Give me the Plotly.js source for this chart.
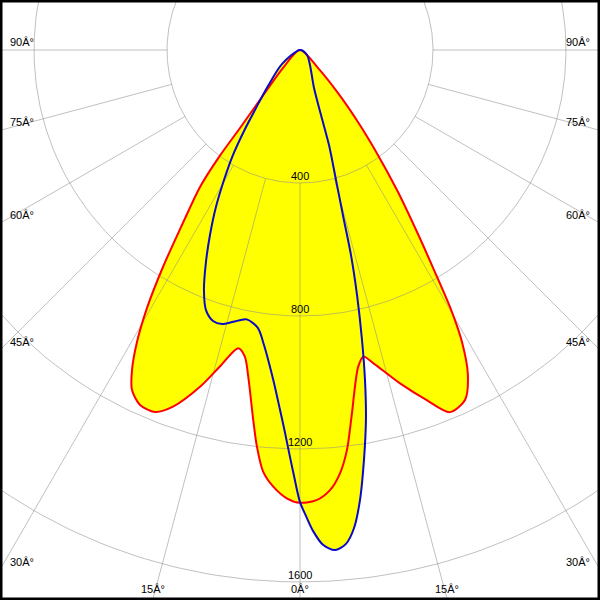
<!DOCTYPE html>
<html>
<head>
<meta charset="utf-8">
<script src="https://cdn.plot.ly/plotly-3.0.1.min.js"></script>
<style>html,body{margin:0;padding:0;background:#fff;}#chart{width:600px;height:600px;}</style>
</head>
<body>
<div id="chart"></div>
<script>
// Polar intensity data (gamma angle in degrees, negative = left half-plane; intensity in cd)
const redAngles = [-90, -43.4, -38.96, -37.57, -37.13, -36.13, -33.99, -32.27, -30.67, -29.17, -27.70, -26.29, -24.26, -21.83, -19.6, -16.5, -14.2, -11.7, -10.2, -9.0, -7.2, -6.2, -5.0, -3.5, -1.7, 0, 2.1, 3.9, 5.4, 6.7, 8.0, 10.4, 11.7, 13.2, 16.7, 19.9, 22.5, 25.24, 27.33, 29.02, 30.27, 31.35, 32.74, 34.61, 36.6, 38.85, 41.47, 45, 90];
const redValues = [0, 74, 182, 296, 404, 510, 635, 772, 902, 1006, 1087, 1141, 1171, 1173, 1139, 1056, 982, 916, 937, 995, 1122, 1200, 1273, 1316, 1349, 1362, 1355, 1327, 1279, 1211, 1114, 969, 942, 968, 1047, 1120, 1179, 1164, 1100, 1004, 895, 775, 651, 519, 393, 278, 173, 77, 0];

const blueAngles = [-90, -52.1, -41.63, -37.18, -34.66, -32.54, -30.31, -28.15, -25.94, -23.91, -21.80, -19.87, -17.80, -15.89, -13.8, -11.2, -8.59, -6.96, -5.66, -4.46, -3.39, -2.42, -1.57, -0.81, 0, 0.74, 1.55, 2.66, 4.0, 5.32, 6.45, 7.59, 8.87, 10.11, 11.14, 12.07, 13.10, 13.97, 14.52, 15.48, 16.97, 17.9, 20.22, 33.7, 54.5, 90];
const blueValues = [0, 69, 145, 219, 296, 375, 453, 536, 619, 698, 778, 832, 856, 857, 842, 826, 846, 894, 946, 1005, 1070, 1138, 1210, 1281, 1360, 1402, 1447, 1490, 1508, 1492, 1447, 1366, 1248, 1130, 1012, 892, 757, 635, 522, 406, 299, 205, 122, 54, 26, 0];

const gridRings = [400, 800, 1200, 1600];
const ringLabels = ["400", "800", "1200", "1600"];
const spokeAngles = [-90, -75, -60, -45, -30, -15, 0, 15, 30, 45, 60, 75, 90];
const sideLabelAngles = [90, 75, 60, 45, 30];
const bottomLabelAngles = [-15, 0, 15];
const deg = "\u00C2\u00B0";

const XR = [-902.4, 902.4];
const YR = [-1654.4, 150.4];
const rad = a => a * Math.PI / 180;

function toXY(angles, vals) {
  return {
    x: angles.map((a, i) => vals[i] * Math.sin(rad(a))),
    y: angles.map((a, i) => -vals[i] * Math.cos(rad(a)))
  };
}

const red = toXY(redAngles, redValues);
const blue = toXY(blueAngles, blueValues);

const traces = [];
traces.push({x: red.x, y: red.y, mode: 'lines', fill: 'toself', fillcolor: '#ffff00',
  line: {width: 0, shape: 'spline', smoothing: 0.8, color: 'rgba(0,0,0,0)'}, hoverinfo: 'skip'});
traces.push({x: blue.x, y: blue.y, mode: 'lines', fill: 'toself', fillcolor: '#ffff00',
  line: {width: 0, shape: 'spline', smoothing: 0.8, color: 'rgba(0,0,0,0)'}, hoverinfo: 'skip'});

// grid circles
const cx = [], cy = [];
gridRings.forEach(r => {
  for (let a = 0; a <= 360; a += 1) { cx.push(r * Math.sin(rad(a))); cy.push(-r * Math.cos(rad(a))); }
  cx.push(null); cy.push(null);
});
traces.push({x: cx, y: cy, mode: 'lines', line: {color: 'rgba(140,140,140,0.55)', width: 1}, hoverinfo: 'skip'});

// spokes
const sx = [], sy = [];
spokeAngles.forEach(a => {
  sx.push(gridRings[0] * Math.sin(rad(a)), 3000 * Math.sin(rad(a)), null);
  sy.push(-gridRings[0] * Math.cos(rad(a)), -3000 * Math.cos(rad(a)), null);
});
traces.push({x: sx, y: sy, mode: 'lines', line: {color: 'rgba(140,140,140,0.55)', width: 1}, hoverinfo: 'skip'});

traces.push({x: red.x, y: red.y, mode: 'lines', line: {color: '#ff0000', width: 2, shape: 'spline', smoothing: 0.8}, hoverinfo: 'skip'});
traces.push({x: blue.x, y: blue.y, mode: 'lines', line: {color: '#0a0ac8', width: 2, shape: 'spline', smoothing: 0.8}, hoverinfo: 'skip'});

const font = {family: 'Liberation Sans, Arial, sans-serif', size: 11, color: '#000'};
const annotations = [];
gridRings.forEach((r, i) => {
  annotations.push({x: 0, y: -r, xref: 'x', yref: 'y', text: ringLabels[i], showarrow: false,
    xanchor: 'center', yanchor: 'bottom', borderpad: 0, font: font});
});
sideLabelAngles.forEach(a => {
  const yEdge = -XR[1] / Math.tan(rad(a));
  annotations.push({x: XR[0], y: yEdge, xref: 'x', yref: 'y', text: a + deg, showarrow: false,
    xanchor: 'left', yanchor: 'bottom', xshift: 9, yshift: 1, borderpad: 0, font: font});
  annotations.push({x: XR[1], y: yEdge, xref: 'x', yref: 'y', text: a + deg, showarrow: false,
    xanchor: 'right', yanchor: 'bottom', xshift: -9, yshift: 1, borderpad: 0, font: font});
});
bottomLabelAngles.forEach(a => {
  annotations.push({x: -YR[0] * Math.tan(rad(a)), y: YR[0], xref: 'x', yref: 'y', text: Math.abs(a) + deg,
    showarrow: false, xanchor: 'center', yanchor: 'bottom', yshift: 4, borderpad: 0, font: font});
});

const layout = {
  width: 600, height: 600, autosize: false,
  margin: {l: 0, r: 0, t: 0, b: 0, pad: 0},
  paper_bgcolor: '#ffffff', plot_bgcolor: '#ffffff',
  showlegend: false,
  xaxis: {range: XR, visible: false, fixedrange: true},
  yaxis: {range: YR, visible: false, fixedrange: true},
  annotations: annotations,
  shapes: [{type: 'rect', xref: 'paper', yref: 'paper', x0: 0, x1: 1, y0: 0, y1: 1,
    line: {color: '#000', width: 5}, layer: 'above'}]
};

Plotly.newPlot('chart', traces, layout, {displayModeBar: false, staticPlot: true});
</script>
</body>
</html>
